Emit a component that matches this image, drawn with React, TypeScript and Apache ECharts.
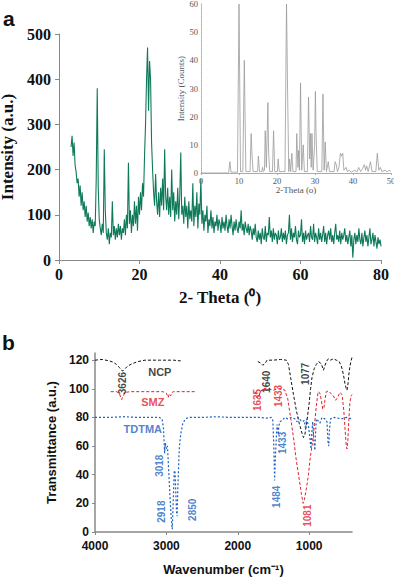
import React, { useEffect, useRef } from 'react';
import * as echarts from 'echarts';

// ---------- Panel a: XRD of NCP (main) ----------
const xrdStart = 3;
const xrdStep = 0.25;
const xrdIntensity = [
  250, 275, 230, 260, 210, 195, 170, 180, 140, 165, 120, 150, 110, 130, 95, 120, 85, 105, 75, 95,
  70, 90, 60, 85, 75, 180, 380, 160, 90, 70, 55, 80, 60, 245, 110, 60, 45, 70, 35, 60,
  50, 130, 55, 75, 45, 70, 50, 80, 55, 75, 45, 70, 60, 90, 55, 100, 70, 215, 80, 110,
  60, 100, 75, 130, 80, 120, 65, 140, 100, 150, 110, 170, 140, 230, 300, 400, 470, 330, 440, 400,
  260, 200, 150, 120, 190, 130, 100, 150, 95, 160, 120, 180, 110, 245, 140, 110, 160, 100, 140, 95,
  200, 110, 150, 85, 130, 100, 160, 90, 140, 238, 100, 120, 80, 140, 95, 120, 70, 130, 90, 110,
  85, 170, 75, 120, 95, 150, 70, 125, 100, 180, 80, 110, 65, 100, 85, 120, 60, 90, 75, 110,
  70, 95, 60, 85, 75, 100, 65, 90, 80, 60, 95, 70, 85, 65, 100, 75, 60, 90, 70, 100,
  75, 55, 85, 65, 90, 70, 60, 85, 70, 110, 65, 80, 55, 85, 70, 60, 80, 55, 75, 65,
  45, 70, 55, 80, 50, 40, 65, 45, 60, 35, 70, 50, 45, 75, 40, 60, 55, 95, 50, 65,
  40, 70, 45, 60, 55, 35, 65, 45, 50, 70, 40, 60, 45, 65, 35, 55, 60, 100, 45, 70,
  40, 60, 50, 75, 45, 35, 65, 50, 55, 90, 40, 60, 35, 65, 45, 55, 60, 40, 75, 50,
  45, 80, 40, 60, 50, 35, 70, 45, 60, 40, 55, 75, 40, 60, 35, 55, 65, 45, 70, 40,
  55, 35, 60, 80, 45, 55, 40, 65, 35, 60, 45, 55, 70, 40, 55, 35, 50, 65, 30, 55,
  5, 45, 60, 35, 55, 40, 70, 45, 35, 60, 30, 50, 65, 40, 55, 30, 50, 70, 35, 45,
  60, 30, 55, 40, 25, 50, 35, 45, 30,
];

// ---------- Inset: reference pattern ----------
const insetPattern = [
  [0, 0], [7, 0], [7.3, 0.3], [7.6, 4], [7.9, 0.3], [9.6, 0.3], [10, 60], [10.4, 0.5], [11, 0.5],
  [11.4, 40], [11.8, 0.5], [12.9, 0.5], [13.2, 14], [13.4, 7], [13.7, 0.5], [14.9, 0.5], [15.1, 6],
  [15.4, 0.5], [16, 0.5], [16.2, 2], [16.4, 0.5], [16.7, 1], [16.9, 15], [17.2, 2], [17.6, 25],
  [17.8, 7], [18.1, 0.5], [18.8, 0.5], [19.1, 15], [19.4, 0.5], [20.1, 0.5], [20.3, 5], [20.6, 0.5],
  [22.1, 0.5], [22.5, 60], [22.8, 28], [23.1, 0.5], [23.3, 5], [23.6, 0.5], [23.9, 7], [24.2, 0.5],
  [25, 0.5], [25.2, 14], [25.5, 2], [25.7, 8], [25.9, 1], [26.2, 32], [26.5, 1], [26.9, 10],
  [27.2, 0.5], [28, 0.5], [28.3, 27], [28.6, 5], [28.8, 14], [29, 2], [29.2, 14], [29.5, 1],
  [29.9, 10], [30.1, 29], [30.3, 13], [30.6, 0.5], [31.8, 0.5], [32.1, 28], [32.4, 1], [32.7, 11],
  [33, 0.5], [33.5, 4], [33.8, 0.5], [35, 0.5], [35.3, 4], [35.6, 3], [35.9, 0.5], [36.3, 2],
  [36.7, 7], [37, 6], [37.3, 7], [37.6, 1], [38.2, 2], [38.5, 0.5], [39, 1], [39.5, 0.3], [40.5, 1],
  [41, 0.3], [41.5, 2], [42, 0.5], [42.5, 1.5], [43, 3], [43.3, 1], [43.6, 2.5], [44, 0.5],
  [44.6, 4], [45, 0.5], [46, 0.5], [46.4, 7], [46.8, 1], [47.2, 2], [47.6, 0.5], [48.5, 1],
  [49, 0.3], [49.5, 1], [50, 0.5],
];

// ---------- Panel b: FTIR ----------
const ncpSpectrum = [
  [4000, 120], [3900, 120.5], [3800, 119.5], [3740, 118.5], [3700, 117], [3660, 115], [3630, 113],
  [3610, 112.5], [3580, 114], [3540, 116], [3480, 117.5], [3400, 119], [3300, 120], [3100, 120],
  [2900, 120], [2800, 119.5], [2760, '-'],
  [1720, 119], [1680, 118], [1650, 116.5], [1620, 117.5], [1590, 120], [1500, 120], [1400, 120.5],
  [1320, 120], [1290, 117], [1260, 108], [1220, 96], [1180, 85], [1140, 76], [1100, 69],
  [1080, 66], [1060, 68], [1030, 78], [1000, 90], [980, 100], [960, 108], [930, 114], [900, 117],
  [870, 119], [840, 118], [820, 116], [800, 113], [780, 116], [760, 119], [730, 121], [700, 120],
  [660, 121], [620, 120], [580, 119], [550, 116], [520, 110], [500, 104], [480, 100], [470, 99],
  [455, 104], [440, 112], [420, 118], [400, 122],
];
const smzSpectrum = [
  [3780, 98], [3700, 98], [3660, 97], [3640, 94], [3626, 92.5], [3610, 94.5], [3580, 97.5],
  [3500, 98], [3300, 98], [3150, 98], [3050, 98], [3000, 97], [2975, 94], [2960, 96.5],
  [2940, 95], [2920, 97.5], [2900, 98], [2800, 98], [2600, 98], [2580, '-'],
  [1760, 98], [1740, 96], [1720, 93], [1700, 95.5], [1680, 98], [1650, 100], [1600, 100.5],
  [1500, 99], [1440, 100], [1400, 100], [1340, 99], [1300, 93], [1260, 80], [1220, 66],
  [1180, 50], [1140, 37], [1110, 27], [1085, 20], [1065, 23], [1040, 30], [1010, 40], [985, 52],
  [955, 62], [925, 75], [900, 88], [875, 98], [850, 97], [830, 92], [810, 86], [795, 86],
  [780, 92], [760, 98], [730, 98.5], [700, 97], [660, 95], [630, 92], [600, 94], [570, 97.5],
  [540, 96], [515, 85], [495, 70], [480, 60], [470, 58], [458, 64], [445, 78], [430, 90],
  [415, 95], [400, 96],
];
const tdtmaSpectrum = [
  [4000, 80], [3800, 80], [3600, 80.5], [3400, 80], [3200, 80], [3100, 80], [3060, 79],
  [3040, 72], [3025, 55], [3015, 62], [3000, 58], [2985, 60], [2965, 40], [2950, 25], [2930, 8],
  [2918, 2], [2905, 20], [2890, 42], [2880, 43], [2870, 30], [2858, 14], [2850, 11], [2840, 30],
  [2820, 58], [2800, 68], [2770, 76], [2730, 79], [2690, 80], [2500, 80], [2300, 80.5],
  [2100, 80], [1900, 80], [1700, 80], [1600, 79.5], [1530, 80], [1510, 78], [1495, 60],
  [1484, 36], [1475, 50], [1460, 66], [1450, 75], [1440, 72], [1433, 68], [1425, 74],
  [1410, 77], [1380, 78], [1340, 80], [1300, 79], [1250, 80], [1200, 79], [1170, 77],
  [1150, 80], [1120, 78], [1090, 77], [1070, 78], [1050, 72], [1035, 79], [1010, 74], [990, 66],
  [975, 58], [962, 70], [950, 77], [935, 64], [920, 57], [910, 70], [900, 79], [880, 78],
  [850, 76], [820, 80], [780, 79], [750, 77], [735, 62], [725, 60], [715, 72], [700, 79],
  [650, 80], [550, 79], [480, 80], [400, 79],
];
const ftirXTicks = [1000, 2000, 3000, 4000];
const ftirYTicks = [0, 20, 40, 60, 80, 100, 120];

// annotation texts anchored in data units: [wavenumber, transmittance, text, series, vertical]
const ftirAnnotations = [
  [3612, 104, '3626', 'NCP', 1],
  [3092, 111.8, 'NCP', 'NCP', 0],
  [3191, 90.8, 'SMZ', 'SMZ', 0],
  [3331, 72, 'TDTMA', 'TDTMA', 0],
  [1592, 104.9, '1640', 'NCP', 1],
  [1045, 110.5, '1077', 'NCP', 1],
  [1718, 92.2, '1635', 'SMZ', 1],
  [1424, 95, '1433', 'SMZ', 1],
  [1367, 62.2, '1433', 'TDTMA', 1],
  [3093, 46.3, '3018', 'TDTMA', 1],
  [3065, 14.2, '2918', 'TDTMA', 1],
  [2630, 15.5, '2850', 'TDTMA', 1],
  [1452, 24.6, '1484', 'TDTMA', 1],
  [1017, 11.4, '1081', 'SMZ', 1],
];

const serif = 'Liberation Serif';
const sans = 'Liberation Sans';
const colors: Record<string, string> = { NCP: '#111111', SMZ: '#e3202c', TDTMA: '#1c62c0' };

export default function App() {
  const ref = useRef<HTMLDivElement>(null);
  useEffect(() => {
    document.body.style.margin = '0';
    const chart = echarts.init(ref.current!, null, { renderer: 'svg' });
    const xrdData = xrdIntensity.map((v, i) => [xrdStart + i * xrdStep, v]);
    const plain = (v: number) => String(v);

    const option: any = {
      animation: false,
      grid: [
        { left: 59, top: 34, width: 322, height: 226, outerBoundsMode: 'none' },
        { left: 201, top: 4, width: 190, height: 169, outerBoundsMode: 'none' },
        { left: 95, top: 353, width: 257, height: 179, outerBoundsMode: 'none' },
      ],
      xAxis: [
        {
          gridIndex: 0, type: 'value', min: 0, max: 80, interval: 20,
          name: '2- Theta (⁰)', nameLocation: 'middle', nameGap: 29,
          nameTextStyle: { fontFamily: serif, fontWeight: 'bold', fontSize: 17, color: '#111' },
          axisLine: { lineStyle: { color: '#888', width: 1 } },
          axisTick: { length: 4, lineStyle: { color: '#888' } },
          axisLabel: { fontFamily: serif, fontWeight: 'bold', fontSize: 16, color: '#111', margin: 6 },
          splitLine: { show: false },
        },
        {
          gridIndex: 1, type: 'value', min: 0, max: 50, interval: 10,
          name: '2-Theta (o)', nameLocation: 'middle', nameGap: 11,
          nameTextStyle: { fontFamily: serif, fontSize: 9, color: '#555' },
          axisLine: { lineStyle: { color: '#aaa', width: 1 } },
          axisTick: { length: 2, lineStyle: { color: '#aaa' } },
          axisLabel: { fontFamily: serif, fontSize: 8.5, color: '#555', margin: 3 },
          splitLine: { show: false },
        },
        {
          gridIndex: 2, type: 'value', min: 400, max: 4000, inverse: true,
          name: 'Wavenumber (cm⁻¹)', nameLocation: 'middle', nameGap: 31,
          nameTextStyle: { fontFamily: sans, fontWeight: 'bold', fontSize: 13, color: '#111' },
          axisLine: { lineStyle: { color: '#888', width: 1.5 } },
          axisTick: { length: 3, lineStyle: { color: '#888' }, customValues: ftirXTicks },
          axisLabel: { fontFamily: sans, fontWeight: 'bold', fontSize: 12, color: '#111', margin: 8, formatter: plain, customValues: ftirXTicks },
          splitLine: { show: false },
        },
      ],
      yAxis: [
        {
          gridIndex: 0, type: 'value', min: 0, max: 500, interval: 100,
          name: 'Intensity (a.u.)', nameLocation: 'middle', nameGap: 37,
          nameTextStyle: { fontFamily: serif, fontWeight: 'bold', fontSize: 17, color: '#111' },
          axisLine: { show: true, lineStyle: { color: '#888', width: 1 } },
          axisTick: { show: true, length: 4, lineStyle: { color: '#888' } },
          axisLabel: { fontFamily: serif, fontWeight: 'bold', fontSize: 16, color: '#111', margin: 8 },
          splitLine: { show: false },
        },
        {
          gridIndex: 1, type: 'value', min: 0, max: 60, interval: 10,
          name: 'Intensity (Counts)', nameLocation: 'middle', nameGap: 11,
          nameTextStyle: { fontFamily: serif, fontSize: 9, color: '#555' },
          axisLine: { show: true, lineStyle: { color: '#aaa', width: 1, type: 'dotted' } },
          axisTick: { show: false },
          axisLabel: { fontFamily: serif, fontSize: 8.5, color: '#555', margin: 3 },
          splitLine: { show: false },
        },
        {
          gridIndex: 2, type: 'value', min: 0, max: 125,
          name: 'Transmittance (a.u.)', nameLocation: 'middle', nameGap: 33,
          nameTextStyle: { fontFamily: sans, fontWeight: 'bold', fontSize: 13, color: '#111' },
          axisLine: { show: true, lineStyle: { color: '#888', width: 1.5 } },
          axisTick: { show: true, length: 3, lineStyle: { color: '#888' }, customValues: ftirYTicks },
          axisLabel: { fontFamily: sans, fontWeight: 'bold', fontSize: 12, color: '#111', margin: 6, customValues: ftirYTicks },
          splitLine: { show: false },
        },
      ],
      series: [
        {
          type: 'line', xAxisIndex: 0, yAxisIndex: 0, data: xrdData, showSymbol: false,
          lineStyle: { color: '#0f7a5a', width: 1.1 }, itemStyle: { color: '#0f7a5a' },
        },
        {
          type: 'line', xAxisIndex: 1, yAxisIndex: 1, data: insetPattern, showSymbol: false,
          lineStyle: { color: '#9a9a9a', width: 0.8 },
        },
        {
          type: 'line', xAxisIndex: 2, yAxisIndex: 2, data: ncpSpectrum, showSymbol: false,
          connectNulls: false, lineStyle: { color: colors.NCP, width: 1, type: [3, 2] },
        },
        {
          type: 'line', xAxisIndex: 2, yAxisIndex: 2, data: smzSpectrum, showSymbol: false,
          connectNulls: false, lineStyle: { color: colors.SMZ, width: 1, type: [3, 2] },
        },
        {
          type: 'line', xAxisIndex: 2, yAxisIndex: 2, data: tdtmaSpectrum, showSymbol: false,
          lineStyle: { color: colors.TDTMA, width: 1.2, type: [2, 2] },
        },
        {
          type: 'scatter', xAxisIndex: 2, yAxisIndex: 2, symbolSize: 1,
          itemStyle: { color: 'rgba(0,0,0,0)' },
          data: ftirAnnotations.map((a) => ({
            value: [a[0], a[1]],
            label: {
              show: true, position: 'inside', formatter: String(a[2]),
              rotate: a[4] ? 90 : 0,
              color: colors[a[3] as string], fontFamily: sans, fontWeight: 'bold',
              fontSize: a[4] ? 10 : 11,
            },
          })),
          z: 5,
        },
      ],
      graphic: [
        { type: 'text', left: 3, top: 8, style: { text: 'a', fontFamily: sans, fontWeight: 'bold', fontSize: 21, fill: '#111' } },
        { type: 'text', left: 2, top: 332, style: { text: 'b', fontFamily: sans, fontWeight: 'bold', fontSize: 21, fill: '#111' } },
      ],
    };
    chart.setOption(option);
    return () => chart.dispose();
  }, []);
  return <div ref={ref} style={{ width: 394, height: 579 }} />;
}
